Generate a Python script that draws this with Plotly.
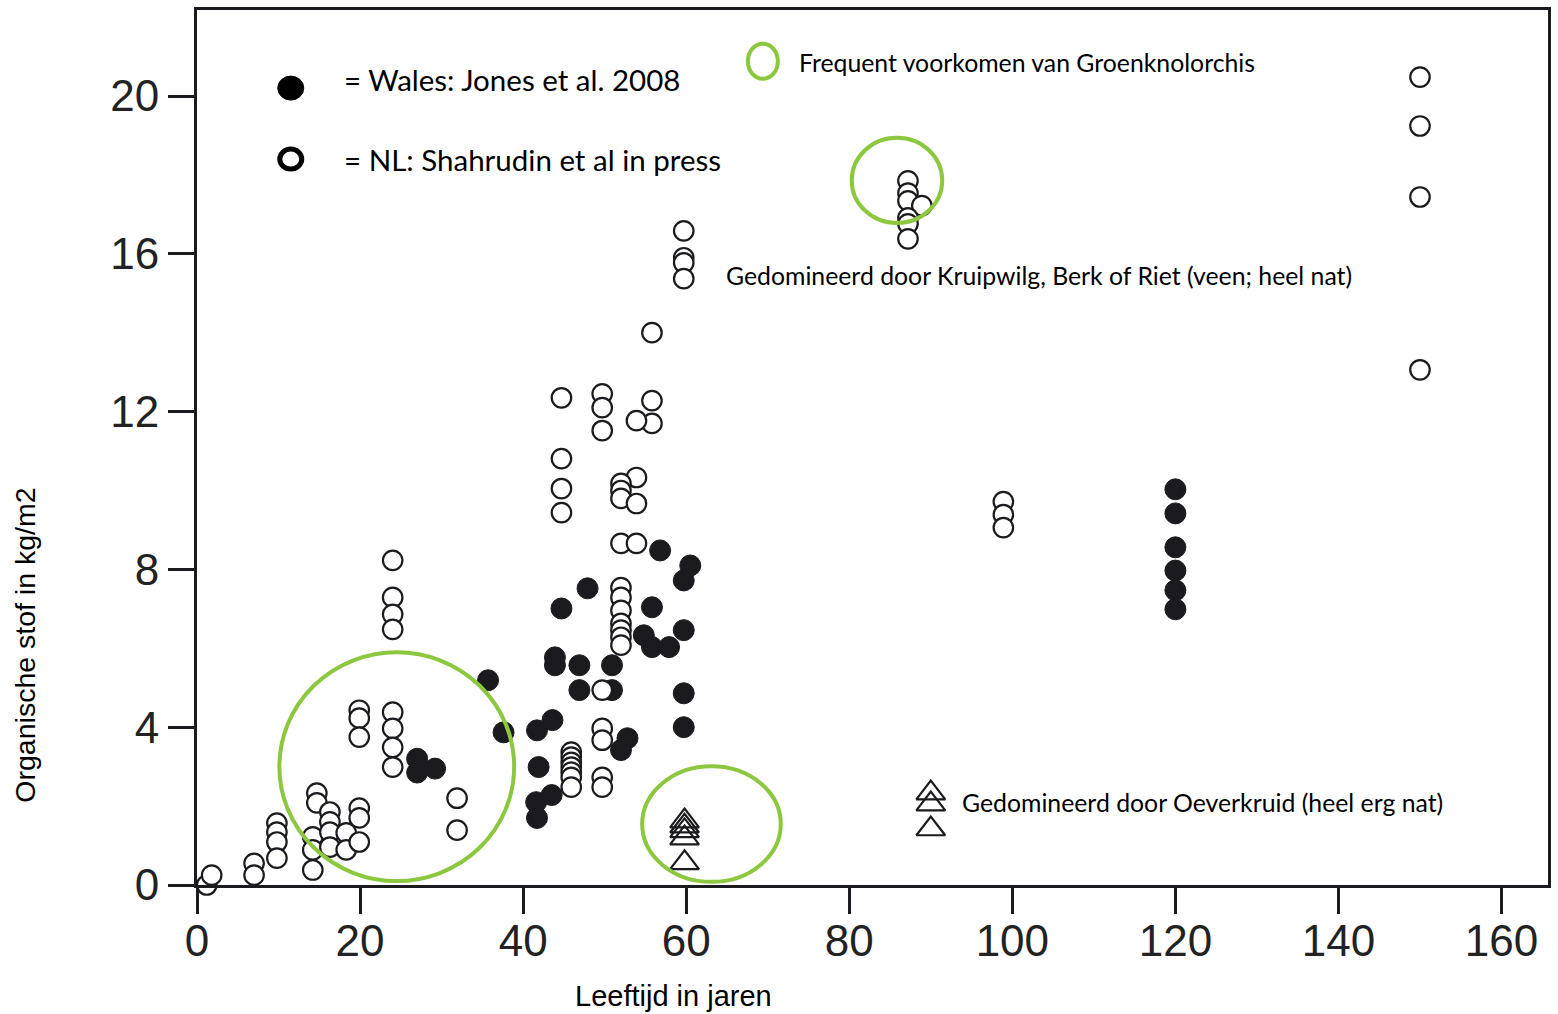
import plotly.graph_objects as go

# Organic matter (kg/m2) against age (years)
# Wales: Jones et al. 2008 (filled circles)
wales_age = [27.0, 27.0, 29.2, 35.7, 37.6,
             56.8, 60.5, 59.7, 47.9, 44.7, 55.8, 59.7, 54.8, 55.8, 57.9,
             43.9, 43.9, 46.9, 50.9, 46.9, 50.9, 59.7, 59.7, 43.6, 41.7,
             52.8, 52.0, 41.9, 43.5, 41.6, 41.7,
             120.0, 120.0, 120.0, 120.0, 120.0, 120.0]
wales_om = [3.2, 2.85, 2.95, 5.19, 3.87,
            8.48, 8.1, 7.72, 7.52, 7.01, 7.04, 6.46, 6.33, 6.03, 6.03,
            5.77, 5.57, 5.57, 5.57, 4.94, 4.94, 4.86, 4.0, 4.18, 3.92,
            3.72, 3.42, 2.99, 2.28, 2.1, 1.7,
            10.03, 9.42, 8.56, 7.97, 7.47, 6.99]

# NL: Shahrudin et al. in press (open circles)
nl_age = [1.2, 1.8, 7.0, 7.0,
          9.8, 9.8, 9.8, 9.8,
          14.7, 14.7, 14.2, 14.2, 14.2,
          16.3, 16.3, 16.3, 16.3,
          18.3, 18.3,
          19.9, 19.9, 19.9,
          19.9, 19.9, 19.9,
          24.0, 24.0, 24.0, 24.0,
          24.0, 24.0, 24.0, 24.0,
          31.9, 31.9,
          44.7, 49.7, 49.7, 49.7, 55.8, 55.8, 53.9,
          44.7, 44.7, 44.7,
          53.9, 52.0, 52.0, 52.0, 53.9,
          52.0, 53.9,
          52.0, 52.0, 52.0, 52.0, 52.0, 52.0, 52.0,
          49.7, 49.7, 49.7,
          45.9, 45.9, 45.9, 45.9, 45.9, 45.9, 45.9,
          49.7, 49.7,
          59.7, 59.7, 59.7, 59.7, 55.8,
          87.2, 87.2, 87.2, 88.9, 87.2, 87.2, 87.2,
          98.9, 98.9, 98.9,
          150.0, 150.0, 150.0, 150.0]
nl_om = [0.0, 0.25, 0.55, 0.25,
         1.57, 1.34, 1.09, 0.68,
         2.33, 2.08, 1.22, 0.89, 0.38,
         1.85, 1.6, 1.34, 0.96,
         1.32, 0.89,
         1.95, 1.7, 1.09,
         4.43, 4.23, 3.75,
         4.38, 3.97, 3.49, 2.99,
         8.23, 7.29, 6.86, 6.48,
         2.2, 1.39,
         12.35, 12.45, 12.1, 11.52, 12.28, 11.7, 11.77,
         10.81, 10.05, 9.44,
         10.33, 10.18, 10.0, 9.8, 9.67,
         8.66, 8.66,
         7.54, 7.29, 6.96, 6.63, 6.46, 6.28, 6.08,
         4.94, 3.97, 3.67,
         3.37, 3.24, 3.11, 2.99, 2.86, 2.73, 2.48,
         2.73, 2.48,
         16.58, 15.9, 15.77, 15.37, 14.0,
         17.85, 17.54, 17.34, 17.22, 16.91, 16.76, 16.38,
         9.72, 9.39, 9.06,
         20.48, 19.24, 17.44, 13.06]

# Sites dominated by Oeverkruid (triangles)
oever_age = [59.8, 59.8, 59.8, 59.8, 59.8, 90.0, 90.0, 90.0]
oever_om = [1.62, 1.49, 1.37, 1.19, 0.56, 2.33, 2.05, 1.42]

x_ticks = [0, 20, 40, 60, 80, 100, 120, 140, 160]
y_ticks = [0, 4, 8, 12, 16, 20]

x_title = "Leeftijd in jaren"
y_title = "Organische stof in kg/m2"
key_wales = "= Wales: Jones et al. 2008"
key_nl = "= NL: Shahrudin et al in press"
key_orchis = "Frequent voorkomen van Groenknolorchis"
note_veen = "Gedomineerd door Kruipwilg, Berk of Riet (veen; heel nat)"
note_oever = "Gedomineerd door Oeverkruid (heel erg nat)"

GREEN = "#8cc83f"
INK = "#1b1b1f"
TEXT_FONT = "Lato, Calibri, Open Sans, sans-serif"
AXIS_FONT = "Liberation Sans, Arial, sans-serif"

fig = go.Figure()

fig.add_trace(go.Scatter(
    x=wales_age, y=wales_om, mode="markers", cliponaxis=False,
    marker=dict(symbol="circle", size=21, color=INK,
                line=dict(color=INK, width=1)),
    showlegend=False))

fig.add_trace(go.Scatter(
    x=nl_age, y=nl_om, mode="markers", cliponaxis=False,
    marker=dict(symbol="circle", size=19.5, color="white",
                line=dict(color=INK, width=2.2)),
    showlegend=False))

fig.add_trace(go.Scatter(
    x=oever_age, y=oever_om, mode="markers", cliponaxis=False,
    marker=dict(symbol="triangle-up-open", size=25, color=INK,
                line=dict(color=INK, width=2.2)),
    showlegend=False))

# Green rings marking the Groenknolorchis sites
rings = [(10.1, 0.1, 38.9, 5.9), (54.6, 0.08, 71.6, 3.01), (80.3, 16.78, 91.4, 18.94)]
shapes = [dict(type="circle", xref="x", yref="y", x0=a, y0=b, x1=c, y1=d,
               line=dict(color=GREEN, width=4)) for a, b, c, d in rings]

# Key symbols, sized in pixels
shapes.append(dict(type="circle", xref="x", yref="y", xsizemode="pixel", ysizemode="pixel",
                   xanchor=11.5, yanchor=20.2, x0=-13, x1=13, y0=-12, y1=12,
                   fillcolor="black", line=dict(color="black", width=1)))
shapes.append(dict(type="circle", xref="x", yref="y", xsizemode="pixel", ysizemode="pixel",
                   xanchor=11.5, yanchor=18.4, x0=-11, x1=11, y0=-10, y1=10,
                   fillcolor="white", line=dict(color="black", width=5)))
shapes.append(dict(type="circle", xref="x", yref="y", xsizemode="pixel", ysizemode="pixel",
                   xanchor=69.4, yanchor=20.88, x0=-15, x1=15, y0=-17.5, y1=17.5,
                   line=dict(color=GREEN, width=4)))

annotations = [
    dict(x=17.8, y=20.43, text=key_wales, font=dict(size=29.5)),
    dict(x=17.8, y=18.38, text=key_nl, font=dict(size=29.5)),
    dict(x=73.6, y=20.84, text=key_orchis, font=dict(size=24.8)),
    dict(x=64.6, y=15.44, text=note_veen, font=dict(size=24.8)),
    dict(x=93.6, y=2.1, text=note_oever, font=dict(size=24.8)),
]
for a in annotations:
    a.update(xref="x", yref="y", xanchor="left", yanchor="middle", showarrow=False)
    a["font"].update(family=TEXT_FONT, color="black")

annotations.append(dict(xref="paper", yref="paper", x=(25 - 197) / 1354, y=(885 - 645) / 876,
                        text=y_title, textangle=-90, showarrow=False,
                        xanchor="center", yanchor="middle",
                        font=dict(family=AXIS_FONT, size=28.5, color="black")))
annotations.append(dict(xref="paper", yref="paper", x=(675 - 197) / 1354, y=-(996 - 885) / 876,
                        text=x_title, showarrow=False,
                        xanchor="center", yanchor="middle",
                        font=dict(family=AXIS_FONT, size=29, color="black")))

axis_common = dict(showgrid=False, zeroline=False, showline=True, mirror=True,
                   linecolor=INK, linewidth=3, ticks="outside", ticklen=26,
                   tickwidth=3, tickcolor=INK,
                   tickfont=dict(family=AXIS_FONT, size=44, color="#222"))

fig.update_layout(
    width=1558, height=1014,
    margin=dict(l=197, r=7, t=9, b=129),
    paper_bgcolor="white", plot_bgcolor="white",
    xaxis=dict(range=[0, 165.7], tickvals=x_ticks, ticklabelstandoff=-11, **axis_common),
    yaxis=dict(range=[0, 22.18], tickvals=y_ticks, **axis_common),
    shapes=shapes, annotations=annotations,
)

fig.write_html("out.html")
